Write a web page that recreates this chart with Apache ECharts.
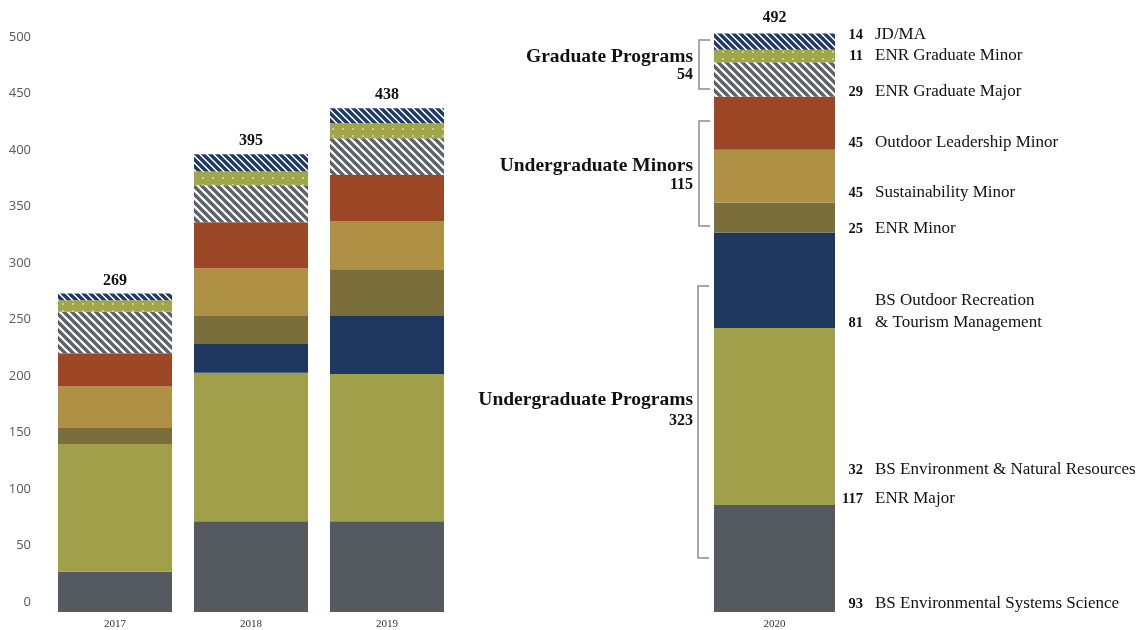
<!DOCTYPE html>
<html>
<head>
<meta charset="utf-8">
<script src="https://cdn.jsdelivr.net/npm/echarts@6/dist/echarts.min.js"></script>
<style>
  html, body { margin: 0; padding: 0; background: #ffffff; }
  #chart { width: 1142px; height: 630px; }
</style>
</head>
<body>
<div id="chart"></div>
<script>
// ---------------- DATA ----------------
const years = ['2017', '2018', '2019', '2020'];
const totals = [269, 395, 438, 492];
// stacked segments, bottom to top
const sysScience   = [35, 79, 79, 93];
const enrMajor     = [111, 129, 128, 154];
const outdoorRec   = [0, 25, 51, 83];
const enrMinor     = [14, 25, 40, 26];
const sustMinor    = [36, 41, 42, 46];
const leadMinor    = [29, 40, 40, 46];
const gradMajor    = [36, 32, 32, 30];
const gradMinor    = [10, 12, 13, 11];
const jdma         = [6, 15, 13, 14];
const yTickValues  = [0, 50, 100, 150, 200, 250, 300, 350, 400, 450, 500];

const groupNames  = ['Graduate Programs', 'Undergraduate Minors', 'Undergraduate Programs'];
const groupTotals = ['54', '115', '323'];
const rightNums   = ['14', '11', '29', '45', '45', '25', '81', '32', '117', '93'];
const rightNames  = ['JD/MA', 'ENR Graduate Minor', 'ENR Graduate Major', 'Outdoor Leadership Minor',
                     'Sustainability Minor', 'ENR Minor', '& Tourism Management',
                     'BS Environment & Natural Resources', 'ENR Major', 'BS Environmental Systems Science'];
const extraLine   = 'BS Outdoor Recreation';

// ---------------- PATTERNS ----------------
function stripes(fg, bg, p, w) {
  const c = document.createElement('canvas');
  c.width = p; c.height = p;
  const g = c.getContext('2d');
  g.fillStyle = bg; g.fillRect(0, 0, p, p);
  g.strokeStyle = fg; g.lineWidth = w; g.lineCap = 'square';
  for (let k = -1; k <= 1; k++) {
    g.beginPath();
    g.moveTo(k * p - 1, -1);
    g.lineTo(k * p + p + 1, p + 1);
    g.stroke();
  }
  return c;
}
function dots(bg, dot) {
  const c = document.createElement('canvas');
  c.width = 10; c.height = 7;
  const g = c.getContext('2d');
  g.fillStyle = bg; g.fillRect(0, 0, 10, 7);
  g.fillStyle = dot;
  g.beginPath(); g.arc(3, 3, 0.9, 0, Math.PI * 2); g.fill();
  return c;
}
const hatchGray = { image: stripes('#5d636b', '#ffffff', 8, 3.4), repeat: 'repeat' };
const hatchNavy = { image: stripes('#1f3a66', '#ffffff', 7, 3.4), repeat: 'repeat' };
const dotGreen  = { image: dots('#a2a64a', '#dfe2b8'), repeat: 'repeat' };

// ---------------- SERIES ----------------
const layers = [
  { name: 'BS Environmental Systems Science', data: sysScience, color: '#555a61' },
  { name: 'ENR Major', data: enrMajor, color: '#a0a04a' },
  { name: 'BS Outdoor Recreation & Tourism Management', data: outdoorRec, color: '#1f3860' },
  { name: 'ENR Minor', data: enrMinor, color: '#7a6f3a' },
  { name: 'Sustainability Minor', data: sustMinor, color: '#ae9145' },
  { name: 'Outdoor Leadership Minor', data: leadMinor, color: '#9b4726' },
  { name: 'ENR Graduate Major', data: gradMajor, color: hatchGray },
  { name: 'ENR Graduate Minor', data: gradMinor, color: dotGreen },
  { name: 'JD/MA', data: jdma, color: hatchNavy }
];

const serif = '"Liberation Serif", "DejaVu Serif", serif';
const series = [];
[0, 1].forEach(function (gi) {
  const from = gi === 0 ? 0 : 3, to = gi === 0 ? 3 : 4;
  layers.forEach(function (L, li) {
    const s = {
      name: L.name,
      type: 'bar',
      stack: 'g' + gi,
      xAxisIndex: gi,
      yAxisIndex: gi,
      barWidth: gi === 0 ? 114 : 121,
      clip: false,
      itemStyle: { color: L.color },
      emphasis: { disabled: true },
      data: L.data.slice(from, to)
    };
    if (li === layers.length - 1) {
      s.label = {
        show: true,
        position: 'top',
        distance: gi === 0 ? 5 : 8,
        formatter: function (p) { return String(totals[from + p.dataIndex]); },
        fontFamily: serif,
        fontWeight: 'bold',
        fontSize: 16,
        color: '#111111'
      };
    }
    series.push(s);
  });
});

// y labels: reference labels sit slightly above the bars' scale near the bottom
const rich = {};
yTickValues.forEach(function (v) {
  const shift = 10 - 0.02 * v;
  rich['l' + v] = { padding: [0, 0, shift * 2, 0], fontFamily: '"Open Sans", sans-serif', fontSize: 13, color: '#595959' };
});

function yAxis(gi, show) {
  return {
    type: 'value', gridIndex: gi, min: 0, max: 500, interval: 50, show: show,
    axisLine: { show: false }, axisTick: { show: false }, splitLine: { show: false },
    axisLabel: {
      show: show, margin: 16,
      formatter: function (v) { return '{l' + v + '|' + v + '}'; },
      rich: rich
    }
  };
}
function xAxis(gi, cats) {
  return {
    type: 'category', gridIndex: gi, data: cats,
    axisLine: { show: false }, axisTick: { show: false },
    axisLabel: { margin: 7, fontFamily: serif, fontSize: 11, color: '#333333' }
  };
}

// ---------------- ANNOTATIONS ----------------
const graphic = [];
const bracketSpans = [[40, 89], [121, 226], [286, 558]];
const bracketX = [699, 699, 698];
bracketSpans.forEach(function (b, i) {
  graphic.push({
    type: 'polyline', silent: true,
    shape: { points: [[bracketX[i] + 11, b[0]], [bracketX[i], b[0]], [bracketX[i], b[1]], [bracketX[i] + 11, b[1]]] },
    style: { stroke: '#8c8c8c', lineWidth: 1.5, fill: null }
  });
});
const groupY = [[57, 75], [166, 185], [400, 421]];
groupNames.forEach(function (t, i) {
  graphic.push({ type: 'text', x: 693, y: groupY[i][0], silent: true,
    style: { text: t, font: 'bold 19.5px ' + serif, fill: '#111111', align: 'right', verticalAlign: 'middle' } });
  graphic.push({ type: 'text', x: 693, y: groupY[i][1], silent: true,
    style: { text: groupTotals[i], font: 'bold 16px ' + serif, fill: '#111111', align: 'right', verticalAlign: 'middle' } });
});
const rightY = [35, 56, 92, 143, 193, 229, 323, 470, 499, 604];
rightNums.forEach(function (n, i) {
  graphic.push({ type: 'text', x: 863, y: rightY[i], silent: true,
    style: { text: n, font: 'bold 14.5px ' + serif, fill: '#111111', align: 'right', verticalAlign: 'middle' } });
  graphic.push({ type: 'text', x: 875, y: rightY[i], silent: true,
    style: { text: rightNames[i], font: '17px ' + serif, fill: '#111111', align: 'left', verticalAlign: 'middle' } });
});
graphic.push({ type: 'text', x: 875, y: 301, silent: true,
  style: { text: extraLine, font: '17px ' + serif, fill: '#111111', align: 'left', verticalAlign: 'middle' } });

// ---------------- CHART ----------------
const chart = echarts.init(document.getElementById('chart'), null, { renderer: 'canvas' });
chart.setOption({
  animation: false,
  backgroundColor: '#ffffff',
  grid: [
    { left: 47, width: 408, top: 37, bottom: 18 },
    { left: 700, width: 149, top: 37, bottom: 18 }
  ],
  xAxis: [xAxis(0, years.slice(0, 3)), xAxis(1, years.slice(3))],
  yAxis: [yAxis(0, true), yAxis(1, false)],
  series: series,
  graphic: graphic
});
</script>
</body>
</html>
